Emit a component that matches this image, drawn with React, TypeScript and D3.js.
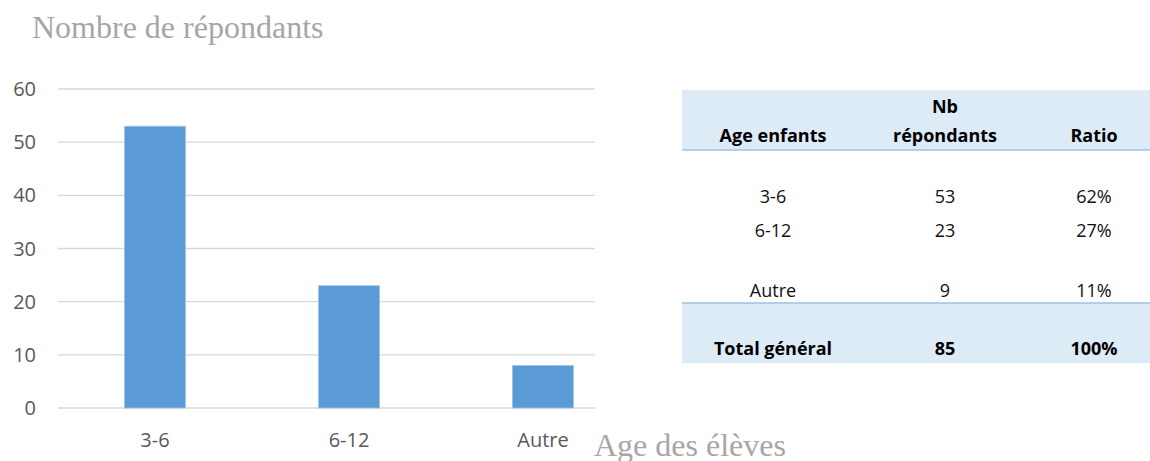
import React from "react";
import * as d3 from "d3";

const categories = ["3-6", "6-12", "Autre"];
const barValues = [53, 23, 8];
const yTicks = [0, 10, 20, 30, 40, 50, 60];

const tableHeaderCols = ["Age enfants", "Nb\nrépondants", "Ratio"];
const tableAges = ["3-6", "6-12", "Autre"];
const tableCounts = ["53", "23", "9"];
const tableRatios = ["62%", "27%", "11%"];
const totalRow = ["Total général", "85", "100%"];

const W = 1150;
const H = 461;

export default function App() {
  const x = d3.scaleBand<string>().domain(categories).range([58, 640]).paddingInner(0.686).paddingOuter(0.343);
  const y = d3.scaleLinear().domain([0, 60]).range([408, 89]);
  const gridX0 = 58;
  const gridX1 = 595;
  const font = "'Open Sans', 'Noto Sans', sans-serif";
  const serif = "'Liberation Serif', 'Times New Roman', serif";

  const colX = [773, 945, 1094];
  const rowY = [203, 237, 297];

  return (
    <svg width={W} height={H} style={{ position: "absolute", left: 0, top: 0, background: "#fff" }}>
      <text x={32} y={38} fontFamily={serif} fontSize={32} fill="#a6a6a6">
        Nombre de répondants
      </text>
      {yTicks.map((t) => (
        <g key={t}>
          <line x1={gridX0} x2={gridX1} y1={y(t)} y2={y(t)} stroke="#d9d9d9" strokeWidth={1.3} />
          <text x={36} y={y(t) + 7} textAnchor="end" fontFamily={font} fontSize={20} fill="#595959">
            {t}
          </text>
        </g>
      ))}
      {categories.map((c, i) => (
        <g key={c}>
          <rect
            x={x(c)}
            y={y(barValues[i])}
            width={x.bandwidth()}
            height={y(0) - y(barValues[i])}
            fill="#5b9bd5"
            stroke="#9dc3e6"
            strokeWidth={0.8}
          />
          <text x={(x(c) as number) + x.bandwidth() / 2} y={447} textAnchor="middle" fontFamily={font} fontSize={20} fill="#595959">
            {c}
          </text>
        </g>
      ))}
      <text x={594} y={456} fontFamily={serif} fontSize={32} fill="#a6a6a6">
        Age des élèves
      </text>

      {/* table */}
      <rect x={682} y={90} width={W - 682} height={60} fill="#ddebf7" />
      <line x1={682} x2={W} y1={150} y2={150} stroke="#9bc2e6" strokeWidth={1.5} />
      <rect x={682} y={303} width={W - 682} height={60} fill="#ddebf7" />
      <line x1={682} x2={W} y1={303} y2={303} stroke="#9bc2e6" strokeWidth={1.5} />
      {tableHeaderCols.map((h, i) => {
        const lines = h.split("\n");
        return lines.map((ln, j) => (
          <text
            key={i + "-" + j}
            x={colX[i]}
            y={142 - (lines.length - 1 - j) * 29}
            textAnchor="middle"
            fontFamily={font}
            fontWeight="bold"
            fontSize={18}
            fill="#000"
          >
            {ln}
          </text>
        ));
      })}
      {tableAges.map((a, r) => (
        <g key={a}>
          <text x={colX[0]} y={rowY[r]} textAnchor="middle" fontFamily={font} fontSize={18} fill="#111">{a}</text>
          <text x={colX[1]} y={rowY[r]} textAnchor="middle" fontFamily={font} fontSize={18} fill="#111">{tableCounts[r]}</text>
          <text x={colX[2]} y={rowY[r]} textAnchor="middle" fontFamily={font} fontSize={18} fill="#111">{tableRatios[r]}</text>
        </g>
      ))}
      {totalRow.map((t, i) => (
        <text key={i} x={colX[i]} y={355} textAnchor="middle" fontFamily={font} fontWeight="bold" fontSize={18} fill="#000">
          {t}
        </text>
      ))}
    </svg>
  );
}
